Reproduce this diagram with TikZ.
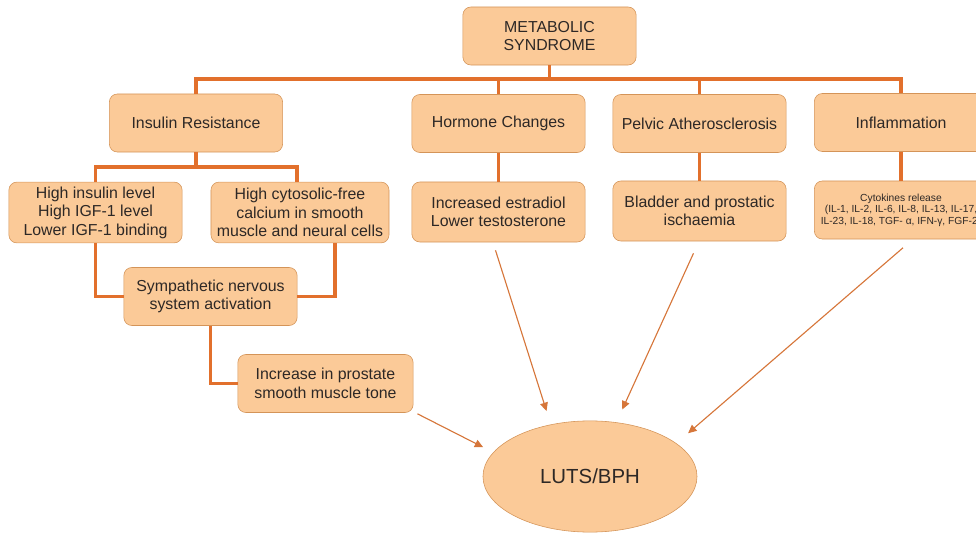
\documentclass[tikz,border=0pt]{standalone}
\usepackage{fontspec}
\setmainfont{Liberation Sans}
\definecolor{BoxFill}{RGB}{251,202,152}
\definecolor{BoxLine}{RGB}{212,148,88}
\definecolor{LinkOrange}{RGB}{226,112,44}
\definecolor{ArrowOrange}{RGB}{214,118,58}
\definecolor{TextGray}{RGB}{45,40,38}
\usetikzlibrary{calc, arrows.meta, shapes.geometric}

\begin{document}
\begin{tikzpicture}[x=0.025cm, y=-0.025cm,
  box/.style={draw=BoxLine, fill=BoxFill, rounded corners=0.2cm, align=center,
    text=TextGray, font=\fontsize{11.3}{13.2}\selectfont,
    minimum width=4.33cm, minimum height=1.45cm, inner sep=1pt},
  link/.style={draw=LinkOrange, line width=2.8pt},
  effect/.style={draw=ArrowOrange, line width=0.8pt,
    -{Triangle[length=6pt, width=5.5pt]}}]

\useasboundingbox (0,0) rectangle (976,533);

% top level
\node [box] (ms) at (549.5,36) {METABOLIC\\SYNDROME};
\node [box] (ir) at (196,123) {Insulin Resistance};
\node [box] (hc) at (498.5,123.5) {Hormone Changes};
\node [box] (pa) at (699.5,123.5) {Pelvic Atherosclerosis};
\node [box] (inf) at (901,122.5) {Inflammation};

% insulin branch
\node [box, minimum height=1.52cm] (hil) at (95.5,212.5)
      {High insulin level\\High IGF-1 level\\Lower IGF-1 binding};
\node [box, minimum width=4.45cm, minimum height=1.52cm] (hcc) at (300,212.5)
      {High cytosolic-free\\calcium in smooth\\muscle and neural cells};
\node [box] (sns) at (210.5,296.5) {Sympathetic nervous\\system activation};
\node [box, minimum width=4.38cm] (inc) at (325.5,383.5)
      {Increase in prostate\\smooth muscle tone};

% second level
\node [box, minimum height=1.5cm] (ies) at (498.5,212)
      {Increased estradiol\\Lower testosterone};
\node [box, minimum height=1.5cm] (bpi) at (699.5,211)
      {Bladder and prostatic\\ischaemia};
\node [box, font=\fontsize{7.3}{8.2}\selectfont, inner sep=0pt] (cyt) at (901,210)
      {Cytokines release\\(IL-1, IL-2, IL-6, IL-8, IL-13, IL-17,\\IL-23, IL-18, TGF- α, IFN-γ, FGF-2)};

\node [ellipse, draw=BoxLine, fill=BoxFill, text=TextGray,
       minimum width=5.35cm, minimum height=2.78cm,
       font=\fontsize{14.5}{16}\selectfont] (luts) at (590,476.5) {LUTS/BPH};

% connectors
\coordinate (bus) at (0,79);
\coordinate (subbus) at (0,167);
\draw [link] (ms.south) -- (ms.south |- bus);
\draw [link] (ir.north) |- (inf.north |- bus) -- (inf.north);
\draw [link] (hc.north) -- (hc.north |- bus);
\draw [link] (pa.north) -- (pa.north |- bus);

\draw [link] (ir.south) -- (ir.south |- subbus);
\draw [link] (hil.north) |- ($(hcc.north |- subbus)+(-3,0)$) -- ($(hcc.north)+(-3,0)$);
\draw [link] (hil.south) |- (sns.west);
\draw [link] ($(hcc.south)+(35,0)$) |- (sns.east);
\draw [link] (sns.south) |- (inc.west);

\draw [link] (hc.south) -- (ies.north);
\draw [link] (pa.south) -- (bpi.north);
\draw [link] (inf.south) -- (cyt.north);

% arrows to LUTS/BPH
\draw [effect, shorten >=10pt] ($(ies.south)+(-3,8)$) -- (luts.127);
\draw [effect, shorten >=10pt] ($(bpi.south)+(-6,12)$) -- (luts.64);
\draw [effect, shorten >=11pt] ($(cyt.south)+(2,8.5)$) -- (luts.21);
\draw [effect, shorten >=8pt] ($(inc.south east)+(4,1)$) -- (luts.166);

\end{tikzpicture}
\end{document}
